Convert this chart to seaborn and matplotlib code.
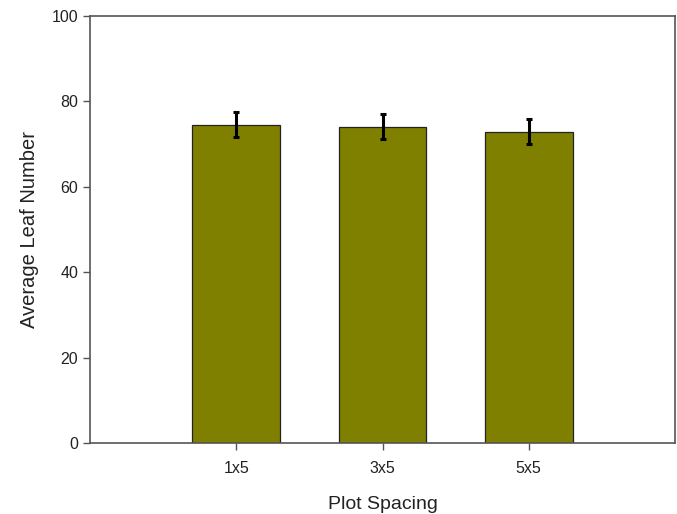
import matplotlib
matplotlib.use("Agg")
import matplotlib.pyplot as plt
import seaborn as sns
import pandas as pd

spacing = ["1x5", "3x5", "5x5"]
leaf_mean = [74.5, 74.1, 72.9]
leaf_err = [2.9, 2.9, 2.9]

sns.set_style("white")
plt.rcParams["font.family"] = ["Liberation Sans", "DejaVu Sans"]

df = pd.DataFrame({"spacing": spacing, "leaves": leaf_mean})

fig = plt.figure(figsize=(6.77, 5.14), dpi=100)
ax = fig.add_axes([0.133, 0.138, 0.864, 0.831])

sns.barplot(data=df, x="spacing", y="leaves", color="#808000", saturation=1,
            width=0.6, edgecolor="#222222", linewidth=0.9, errorbar=None, ax=ax)
ax.errorbar(range(len(spacing)), leaf_mean, yerr=leaf_err, fmt="none",
            ecolor="black", elinewidth=2.2, capsize=2, capthick=2.2)

ax.set_xlim(-1, 3)
ax.set_ylim(0, 100)
ax.set_yticks([0, 20, 40, 60, 80, 100])
ax.set_xlabel("Plot Spacing", fontsize=14, color="#222222", labelpad=14)
ax.set_ylabel("Average Leaf Number", fontsize=14.5, color="#222222", labelpad=9)
ax.tick_params(axis="both", direction="out", length=5, width=1, color="#555555",
               labelsize=11.5, labelcolor="#222222", bottom=True, left=True)
ax.tick_params(axis="x", pad=8)
for s in ax.spines.values():
    s.set_visible(True)
    s.set_color("#555555")
    s.set_linewidth(1.2)

fig.savefig("out.png", dpi=100)
